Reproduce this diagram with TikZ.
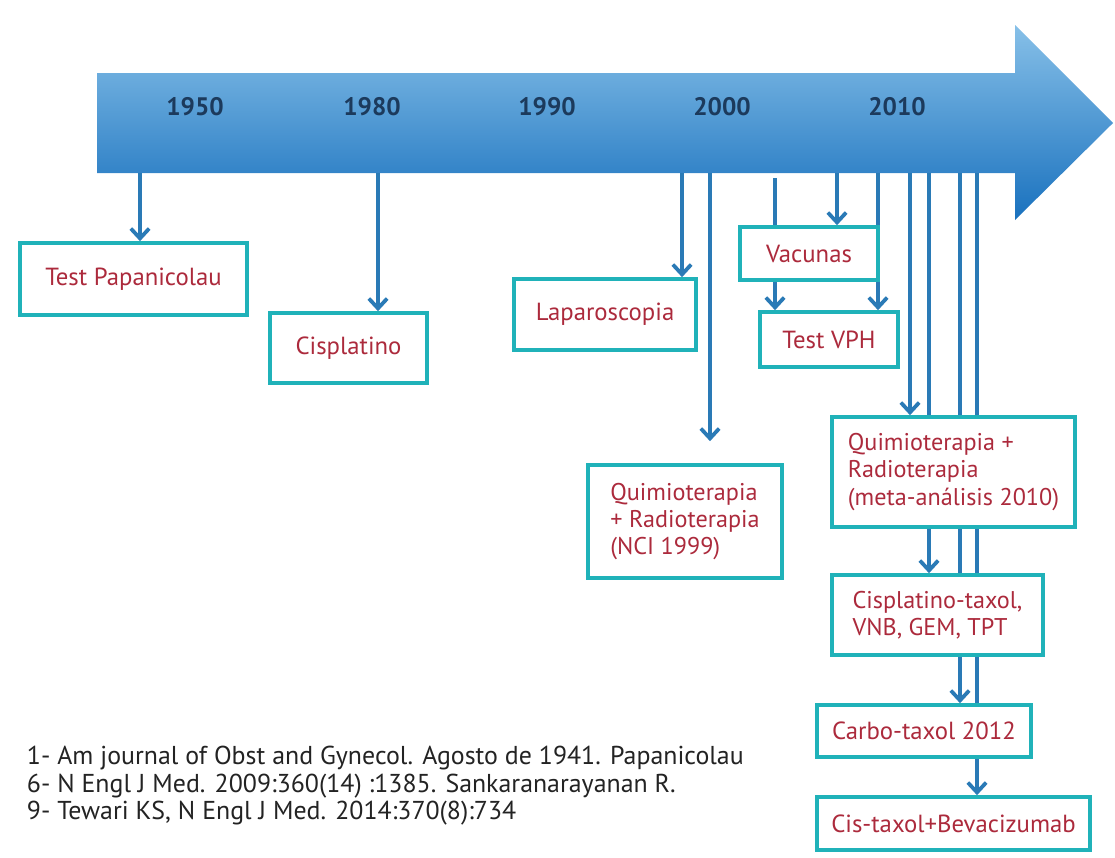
\documentclass[tikz,border=0pt]{standalone}
\usepackage{fontspec}
\setmainfont{PT Sans}
\usepackage{xcolor}
\usepackage{tikz}
\usetikzlibrary{arrows.meta}
\definecolor{boxteal}{RGB}{32,178,185}
\definecolor{txtred}{RGB}{172,42,60}
\definecolor{yearnavy}{RGB}{28,58,92}
\definecolor{linkblue}{RGB}{42,122,182}
\definecolor{barlight}{RGB}{135,192,232}
\definecolor{barmid}{RGB}{78,157,213}
\definecolor{bardark}{RGB}{25,113,190}
\definecolor{refgray}{RGB}{35,35,35}
\newcommand{\pxu}{0.025cm}
\pgfdeclarelayer{barlayer}
\pgfdeclarelayer{linklayer}
\pgfsetlayers{barlayer,linklayer,main}

\begin{document}
\begin{tikzpicture}[x=0.025cm,y=-0.025cm,
        evt/.style={draw=boxteal, line width=2.6pt, fill=white, text=txtred, inner sep=0pt,
                    align=center, font=\fontsize{17.6}{19.5}\selectfont},
        evtl/.style={evt, align=left, font=\fontsize{17.2}{19.5}\selectfont},
        link/.style={draw=linkblue, line width=2.7pt, -{Straight Barb[length=7pt,width=13pt]}},
        yr/.style={font=\bfseries\fontsize{18}{20}\selectfont, text=yearnavy},
        refs/.style={font=\fontsize{18.4}{20}\selectfont, text=refgray, anchor=west}]
        \useasboundingbox (0,0) rectangle (1115,857);
        % timeline arrow
        \begin{pgfonlayer}{barlayer}
        \shade[top color=barlight, middle color=barmid, bottom color=bardark]
            (97,73) -- (1015,73) -- (1015,25) -- (1113,123) -- (1015,220) -- (1015,173) -- (97,173) -- cycle;
        \end{pgfonlayer}
        \foreach \yr/\xx in {1950/195,1980/372,1990/547,2000/722,2010/897}
            \node[yr] (y\yr) at (\xx,107) {\yr};

        % events
        \node[evt, minimum width=227*\pxu, minimum height=72*\pxu] (pap) at (133.5,279) {Test Papanicolau};
        \node[evt, minimum width=157*\pxu, minimum height=70*\pxu] (cis) at (348.5,348) {Cisplatino};
        \node[evt, minimum width=182*\pxu, minimum height=71*\pxu] (lap) at (605,314.5) {Laparoscopia};
        \node[evtl, minimum width=194*\pxu, minimum height=113*\pxu] (nci) at (685,521.5) {Quimioterapia\\+ Radioterapia\\(NCI 1999)};
        \node[evt, minimum width=138*\pxu, minimum height=53*\pxu] (vac) at (809,253.5) {Vacunas};
        \node[evt, minimum width=138*\pxu, minimum height=55*\pxu] (vph) at (829,339.5) {Test VPH};
        \node[evtl, minimum width=243*\pxu, minimum height=110*\pxu] (qr) at (953.5,472) {Quimioterapia +\\Radioterapia\\(meta-análisis 2010)};
        \node[evtl, minimum width=211*\pxu, minimum height=80*\pxu] (ctx) at (937.5,615) {Cisplatino-taxol,\\VNB, GEM, TPT};
        \node[evt, minimum width=214*\pxu, minimum height=52*\pxu] (carbo) at (924,731) {Carbo-taxol 2012};
        \node[evt, minimum width=273*\pxu, minimum height=53*\pxu] (bev) at (953.5,823.5) {Cis-taxol+Bevacizumab};

        % drop points under the bar
        \coordinate (d1) at (140,173);
        \coordinate (d2) at (378,173);
        \coordinate (d3) at (682,173);
        \coordinate (d4) at (710,173);
        \coordinate (d5) at (775,178);
        \coordinate (d6) at (837,173);
        \coordinate (d7) at (878,173);
        \coordinate (d8) at (910,173);
        \coordinate (d9) at (929,173);
        \coordinate (d10) at (960,173);
        \coordinate (d11) at (977,173);

        \begin{pgfonlayer}{linklayer}
        \draw[link] (d1) -- (d1 |- pap.north);
        \draw[link] (d2) -- (d2 |- cis.north);
        \draw[link] (d3) -- (d3 |- lap.north);
        \draw[link, shorten >=0.55cm] (d4) -- (d4 |- nci.north);
        \draw[link] (d5) -- (d5 |- vph.north);
        \draw[link] (d6) -- (d6 |- vac.north);
        \draw[link] (d7) -- (d7 |- vph.north);
        \draw[link] (d8) -- (d8 |- qr.north);
        \draw[link] (d9) -- (d9 |- ctx.north);
        \draw[link] (d10) -- (d10 |- carbo.north);
        \draw[link] (d11) -- (d11 |- bev.north);
        \end{pgfonlayer}

        % references
        \node[refs] (ref1) at (22,758) {1- Am journal of Obst and Gynecol. Agosto de 1941. Papanicolau};
        \node[refs] (ref2) at (22,786) {6- N Engl J Med. 2009:360(14) :1385. Sankaranarayanan R.};
        \node[refs] (ref3) at (22,813) {9- Tewari KS, N Engl J Med. 2014:370(8):734};
\end{tikzpicture}
\end{document}
